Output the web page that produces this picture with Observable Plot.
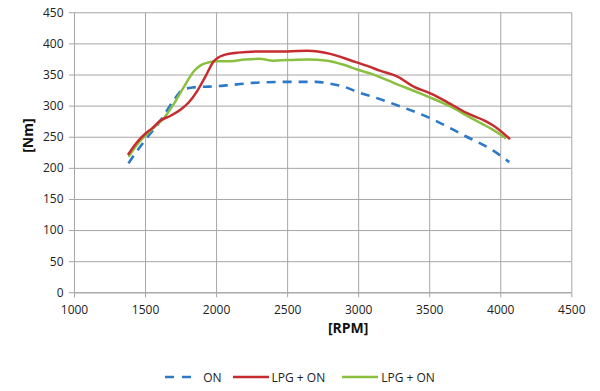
<!DOCTYPE html>
<html>
<head>
<meta charset="utf-8">
<script src="https://cdn.jsdelivr.net/npm/d3@7"></script>
<script src="https://cdn.jsdelivr.net/npm/@observablehq/plot@0.6"></script>
<style>
  html, body { margin: 0; padding: 0; background: #fff; }
  #chart { width: 600px; }
  .legend { width: 600px; height: 44px; display: flex; justify-content: center; align-items: center;
            font-family: "Open Sans", sans-serif; font-size: 12px; color: #222; }
  .legend .item { display: flex; align-items: center; }
  .legend svg { display: block; }
</style>
</head>
<body>
<div id="chart"></div>
<script>
const xTicks = [1000, 1500, 2000, 2500, 3000, 3500, 4000, 4500];
const yTicks = [0, 50, 100, 150, 200, 250, 300, 350, 400, 450];

const seriesNames = ["ON", "LPG + ON", "LPG + ON"];

const rpmON = [1380, 1440, 1500, 1600, 1700, 1760, 1830, 1900, 2000, 2100, 2300, 2500, 2700, 2800, 2900, 3000, 3100, 3300, 3500, 3750, 3950, 4060];
const nmON  = [208, 228, 246, 275, 310, 326, 330, 331, 332, 334, 338, 339, 339, 336, 331, 322, 315, 299, 281, 252, 228, 210];

const rpmRed = [1380, 1440, 1500, 1550, 1600, 1680, 1750, 1800, 1860, 1920, 1980, 2050, 2150, 2330, 2500, 2640, 2800, 2950, 3080, 3150, 3270, 3390, 3500, 3620, 3760, 3900, 3960, 4060];
const nmRed  = [223, 242, 256, 265, 276, 285, 295, 305, 323, 347, 372, 382, 386, 388, 388, 389, 384, 373, 363, 357, 348, 331, 321, 307, 289, 275, 267, 248];

const rpmGreen = [1385, 1440, 1500, 1560, 1630, 1700, 1770, 1840, 1890, 1940, 2000, 2100, 2200, 2300, 2400, 2500, 2640, 2780, 2900, 3000, 3100, 3250, 3480, 3650, 3790, 3930, 3980, 4030];
const nmGreen  = [220, 238, 253, 266, 281, 304, 331, 356, 366, 370, 372, 372, 375, 376, 373, 374, 375, 373, 366, 358, 351, 337, 316, 299, 281, 264, 257, 249];

const colors = ["#2d79c7", "#c62b2f", "#8bbf3f"];

const toRows = (xs, ys) => xs.map((x, i) => ({rpm: x, nm: ys[i]}));
const dataON = toRows(rpmON, nmON);
const dataRed = toRows(rpmRed, nmRed);
const dataGreen = toRows(rpmGreen, nmGreen);

const gridColor = "#a6a6a6";

const chart = Plot.plot({
  width: 600,
  height: 355,
  marginLeft: 74,
  marginRight: 28.7,
  marginTop: 12.3,
  marginBottom: 62.7,
  style: {fontFamily: "Open Sans, sans-serif", fontSize: "12px", background: "#fff", overflow: "visible"},
  x: {domain: [1000, 4500], label: null},
  y: {domain: [0, 450], label: null},
  marks: [
    Plot.gridX(xTicks, {stroke: gridColor, strokeOpacity: 1, strokeWidth: 1}),
    Plot.gridY(yTicks, {stroke: gridColor, strokeOpacity: 1, strokeWidth: 1}),
    Plot.axisX(xTicks, {tickSize: 5, tickPadding: 8, stroke: gridColor, fill: "#222", label: null, tickFormat: d => String(d)}),
    Plot.axisY(yTicks, {tickSize: 5, tickPadding: 6, stroke: gridColor, fill: "#222", label: null, tickFormat: d => String(d)}),
    Plot.ruleX([1000], {stroke: gridColor}),
    Plot.ruleY([0], {stroke: gridColor}),
    Plot.line(dataON, {x: "rpm", y: "nm", stroke: colors[0], strokeWidth: 2.6, strokeDasharray: "9,7", curve: "monotone-x", strokeLinecap: "butt"}),
    Plot.line(dataGreen, {x: "rpm", y: "nm", stroke: colors[2], strokeWidth: 2.5, curve: "monotone-x"}),
    Plot.line(dataRed, {x: "rpm", y: "nm", stroke: colors[1], strokeWidth: 2.5, curve: "monotone-x"}),
    Plot.text(["[RPM]"], {frameAnchor: "bottom", dx: 25, dy: 40, fontWeight: "bold", fontSize: 14, fill: "#111"}),
    Plot.text(["[Nm]"], {frameAnchor: "left", dx: -46, rotate: -90, fontWeight: "bold", fontSize: 14, fill: "#111"})
  ]
});
document.getElementById("chart").append(chart);

// Legend below the chart
const legend = d3.select("body").append("div").attr("class", "legend");
const items = [
  {name: seriesNames[0], color: colors[0], dash: "9,8", w: 28, gapAfter: 11, textGap: 10},
  {name: seriesNames[1], color: colors[1], dash: null, w: 36, gapAfter: 17, textGap: 3},
  {name: seriesNames[2], color: colors[2], dash: null, w: 36, gapAfter: 0, textGap: 3}
];
items.forEach((it, i) => {
  const item = legend.append("div").attr("class", "item").style("margin-right", it.gapAfter + "px");
  const svg = item.append("svg").attr("width", it.w).attr("height", 10);
  svg.append("line").attr("x1", 0).attr("x2", it.w).attr("y1", 5).attr("y2", 5)
    .attr("stroke", it.color).attr("stroke-width", 2.6)
    .attr("stroke-dasharray", it.dash);
  item.append("span").style("margin-left", it.textGap + "px").text(it.name);
});
</script>
</body>
</html>
